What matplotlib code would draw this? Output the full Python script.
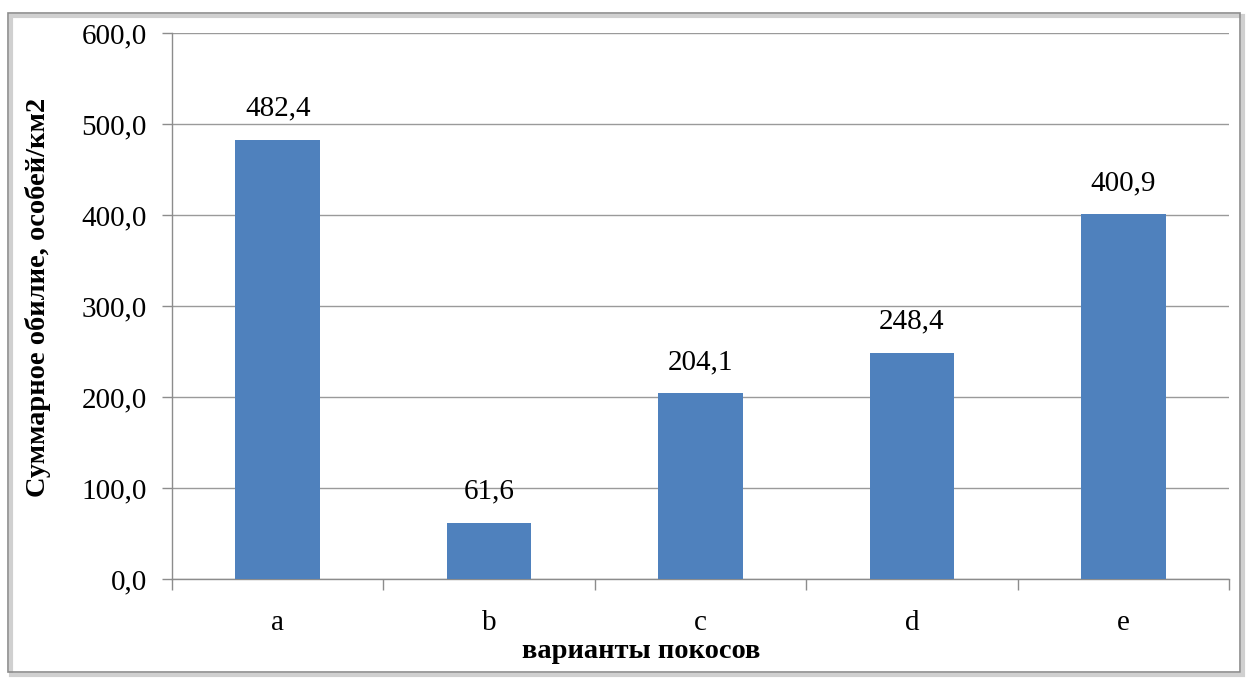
import matplotlib
matplotlib.use("Agg")
import matplotlib.pyplot as plt
from matplotlib.patches import Rectangle

categories = ["a", "b", "c", "d", "e"]
values = [482.4, 61.6, 204.1, 248.4, 400.9]
y_ticks = [0, 100, 200, 300, 400, 500, 600]

plt.rcParams["font.family"] = ["Liberation Serif", "DejaVu Serif"]

fig = plt.figure(figsize=(12.48, 6.78), dpi=100)
ax = fig.add_axes([172 / 1248, 1 - 579 / 678, (1229 - 172) / 1248, (579 - 33) / 678])

# outer chart frame with a soft shadow
fig.patches.append(Rectangle((11 / 1248, 1 - 675 / 678), 1232 / 1248, 659 / 678,
                             transform=fig.transFigure, facecolor="none",
                             edgecolor="#d0d0d0", linewidth=3, zorder=0))
fig.patches.append(Rectangle((8 / 1248, 1 - 672 / 678), 1232 / 1248, 659 / 678,
                             transform=fig.transFigure, facecolor="none",
                             edgecolor="#8c8c8c", linewidth=1.2, zorder=1))

x = list(range(len(categories)))
bars = ax.bar(x, values, width=0.4, color="#4f81bd", zorder=3)
for xi, v in zip(x, values):
    ax.text(xi, v + 20, f"{v:.1f}".replace(".", ","), ha="center", va="bottom",
            fontsize=21, color="black")

ax.set_xlim(-0.5, len(categories) - 0.5)
ax.set_ylim(0, 600)
ax.set_yticks(y_ticks)
ax.set_yticklabels([f"{t:.1f}".replace(".", ",") for t in y_ticks], fontsize=21)
ax.yaxis.grid(True, color="#9a9a9a", linewidth=1)
ax.set_axisbelow(True)

ax.set_xticks(x)
ax.set_xticklabels(categories, fontsize=21)
ax.tick_params(axis="x", length=0, pad=22)
ax.tick_params(axis="y", length=7, color="#8c8c8c", width=1, pad=11)
ax.set_xticks([i - 0.5 for i in range(len(categories) + 1)], minor=True)
ax.tick_params(axis="x", which="minor", length=8, color="#8c8c8c", width=1)

for side in ["top", "right"]:
    ax.spines[side].set_visible(False)
for side in ["left", "bottom"]:
    ax.spines[side].set_color("#8c8c8c")
    ax.spines[side].set_linewidth(1)

yl = ax.set_ylabel("Суммарное обилие, особей/км2", fontsize=20.5, fontweight="bold")
yl.set_verticalalignment("center")
yl.set_horizontalalignment("center")
ax.yaxis.set_label_coords(-0.1268, 0.5165)

xl = ax.set_xlabel("варианты покосов", fontsize=20.5, fontweight="bold")
xl.set_verticalalignment("baseline")
ax.xaxis.set_label_coords(0.4437, -0.1447)

fig.savefig("out.png", dpi=100)
